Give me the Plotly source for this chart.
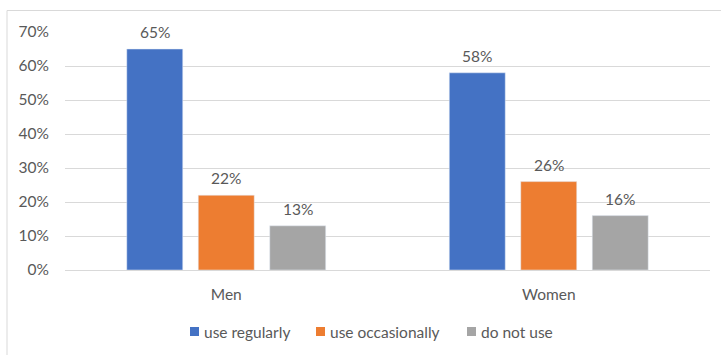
import plotly.graph_objects as go

categories = ["Men", "Women"]
series_names = ["use regularly", "use occasionally", "do not use"]
use_regularly = [65, 58]
use_occasionally = [22, 26]
do_not_use = [13, 16]
colors = ["#4472C4", "#ED7D31", "#A5A5A5"]
series_values = [use_regularly, use_occasionally, do_not_use]

FONT = "Lato, Calibri, Carlito, sans-serif"
TXT = "#595959"
FS = 15.5

# layout helpers (pixel -> paper)
L, R, T, B = 65, 11, 32, 85
PW, PH = 721 - L - R, 355 - T - B
def px(x):
    return (x - L) / PW
def py(y):
    return (355 - B - y) / PH

fig = go.Figure()
for name, vals, col in zip(series_names, series_values, colors):
    fig.add_trace(go.Bar(x=categories, y=vals, name=name, marker_color=col, showlegend=False))

annotations = []
bar_step = 71.5
for j, vals in enumerate(series_values):
    for cat, v in zip(categories, vals):
        annotations.append(dict(x=cat, y=v, xref="x", yref="y", text=f"{v}%", showarrow=False,
                                xshift=(j - 1) * bar_step, yshift=6, yanchor="bottom",
                                font=dict(family=FONT, size=FS, color=TXT)))

# legend
shapes = [dict(type="rect", xref="paper", yref="paper", x0=px(7), x1=1.5, y0=-1.5, y1=py(10.5),
               line=dict(color="#D9D9D9", width=1), fillcolor="rgba(0,0,0,0)", layer="below")]
leg_x = [190, 316, 467]
for name, col, lx in zip(series_names, colors, leg_x):
    shapes.append(dict(type="rect", xref="paper", yref="paper", x0=px(lx), x1=px(lx + 9),
                       y0=py(336), y1=py(327), fillcolor=col, line=dict(width=0)))
    annotations.append(dict(x=px(lx + 12), y=py(331.5), xref="paper", yref="paper", text=name,
                            showarrow=False, xanchor="left", yanchor="middle",
                            font=dict(family=FONT, size=FS, color=TXT)))

fig.update_layout(
    width=721, height=355,
    margin=dict(l=L, r=R, t=T, b=B),
    paper_bgcolor="white", plot_bgcolor="white",
    barmode="group", bargap=0.335, bargroupgap=0.217,
    font=dict(family=FONT, size=FS, color=TXT),
    showlegend=False,
    xaxis=dict(showgrid=False, showline=False, ticks="", tickfont=dict(size=FS, color=TXT),
               ticklabelstandoff=13),
    yaxis=dict(range=[0, 70], dtick=10, ticksuffix="%", showgrid=True, gridcolor="#D9D9D9",
               gridwidth=1, zeroline=True, zerolinecolor="#D9D9D9", zerolinewidth=1,
               showline=False, tickfont=dict(size=FS, color=TXT), ticklabelstandoff=15),
    shapes=shapes,
    annotations=annotations,
)

fig.write_html("out.html")
